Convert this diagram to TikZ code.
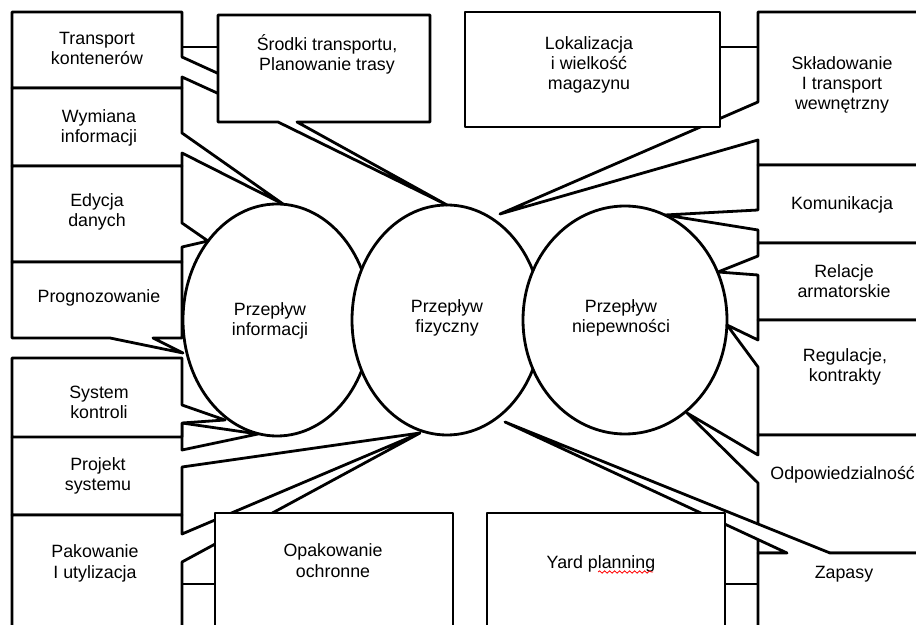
\documentclass[tikz,border=0pt]{standalone}
\usepackage{fontspec}
\setmainfont{Liberation Sans}
\usetikzlibrary{decorations.pathmorphing}
\tikzset{
  rim/.style={draw,line width=1.4pt,line join=round},
  box/.style={rim,fill=white},
  lbl/.style={align=center,anchor=base,inner sep=0pt,font=\fontsize{8.9}{10}\selectfont},
}
\begin{document}
\begin{tikzpicture}[x=0.5pt,y=-0.5pt]
\clip (0,0) rectangle (916,625);
% the three flows
\draw[box] (277,320) ellipse (94 and 116);
\draw[box] (447,320) ellipse (95 and 115);
\draw[box] (625,320) ellipse (102 and 114);
% left column
\draw[box] (12,12) -- (182,12) -- (182,57) -- (250,88) -- (250,108) -- (182,77) -- (182,88) -- (12,88) -- cycle;
\draw[rim] (182,47) -- (218,47);
\draw[box] (218,15) -- (430,15) -- (430,122) -- (297,122) -- (447,205) -- (278,122) -- (218,122) -- cycle;
\draw[box] (12,88) -- (182,88) -- (182,133) -- (283,204) -- (182,153) -- (182,166) -- (12,166) -- cycle;
\draw[box] (12,166) -- (182,166) -- (182,223) -- (208,241) -- (182,247) -- (182,262) -- (12,262) -- cycle;
\draw[box] (12,262) -- (182,262) -- (182,338) -- (153,338) -- (183,353) -- (110,338) -- (12,338) -- cycle;
% right column
\draw[box] (758,12) -- (932,12) -- (932,165) -- (758,165) -- (758,140) -- (500,214) -- (758,102) -- cycle;
\draw[box] (465,12) rectangle (720,127);
\draw[rim] (720,47) -- (758,47);
\draw[box] (758,165) -- (932,165) -- (932,243) -- (758,243) -- (758,230) -- (665,215) -- (758,210) -- cycle;
\draw[box] (758,243) -- (932,243) -- (932,320) -- (758,320) -- (758,275) -- (718,272) -- (758,256) -- cycle;
\draw[box] (758,320) -- (932,320) -- (932,435) -- (758,435) -- (758,367) -- (727,325) -- (758,340) -- cycle;
\draw[box] (758,435) -- (932,435) -- (932,553) -- (758,553) -- (758,483) -- (687,413) -- (758,455) -- cycle;
\draw[box] (758,553) -- (787,553) -- (505,422) -- (830,553) -- (932,553) -- (932,640) -- (758,640) -- cycle;
\draw[box] (487,513) rectangle (725,640);
\draw[rim] (725,584) -- (758,584);
% lower left
\draw[box] (182,423) -- (258,434) -- (182,450) -- cycle;
\draw[box] (12,358) -- (182,358) -- (182,405) -- (225,420) -- (182,423) -- (182,437) -- (12,437) -- cycle;
\draw[rim] (420,433) -- (182,467) -- (182,515) -- (12,515) -- (12,437);
\draw[box] (12,515) -- (182,515) -- (182,534) -- (420,433) -- (182,562) -- (182,630) -- (12,630) -- cycle;
\draw[box] (215,513) rectangle (453,640);
\draw[rim] (182,584) -- (215,584);
% texts (base = last line)
\node[lbl] (infl) at (270,336) {Przepływ\\informacji};
\node[lbl] (fizy) at (447,333) {Przepływ\\fizyczny};
\node[lbl] (niep) at (621,333) {Przepływ\\niepewności};
\node[lbl] (trans) at (97,65) {Transport\\kontenerów};
\node[lbl] (wymi) at (99,143) {Wymiana\\informacji};
\node[lbl] (edyc) at (97,227) {Edycja\\danych};
\node[lbl] (progn) at (99,303) {Prognozowanie};
\node[lbl] (syst) at (99,419) {System\\kontroli};
\node[lbl] (proj) at (98,491) {Projekt\\systemu};
\node[lbl] (pako) at (95,578) {Pakowanie\\I utylizacja};
\node[lbl] (srod) at (327,71) {Środki transportu,\\Planowanie trasy};
\node[lbl] (loka) at (589,90) {Lokalizacja\\i wielkość\\magazynu};
\node[lbl] (sklad) at (842,110) {Składowanie\\I transport\\wewnętrzny};
\node[lbl] (komu) at (842,210) {Komunikacja};
\node[lbl] (rela) at (844,298) {Relacje\\armatorskie};
\node[lbl] (regu) at (845,382) {Regulacje,\\kontrakty};
\node[lbl,anchor=base west] (odpo) at (770,480) {Odpowiedzialność};
\node[lbl] (zapa) at (844,578) {Zapasy};
\node[lbl] (opak) at (333,577) {Opakowanie\\ochronne};
\node[lbl] (yard) at (601,568) {Yard planning};
\draw[red,line width=0.4pt,decorate,decoration={snake,amplitude=0.6pt,segment length=2.5pt}] (598,572) -- (653,572);
\end{tikzpicture}
\end{document}
